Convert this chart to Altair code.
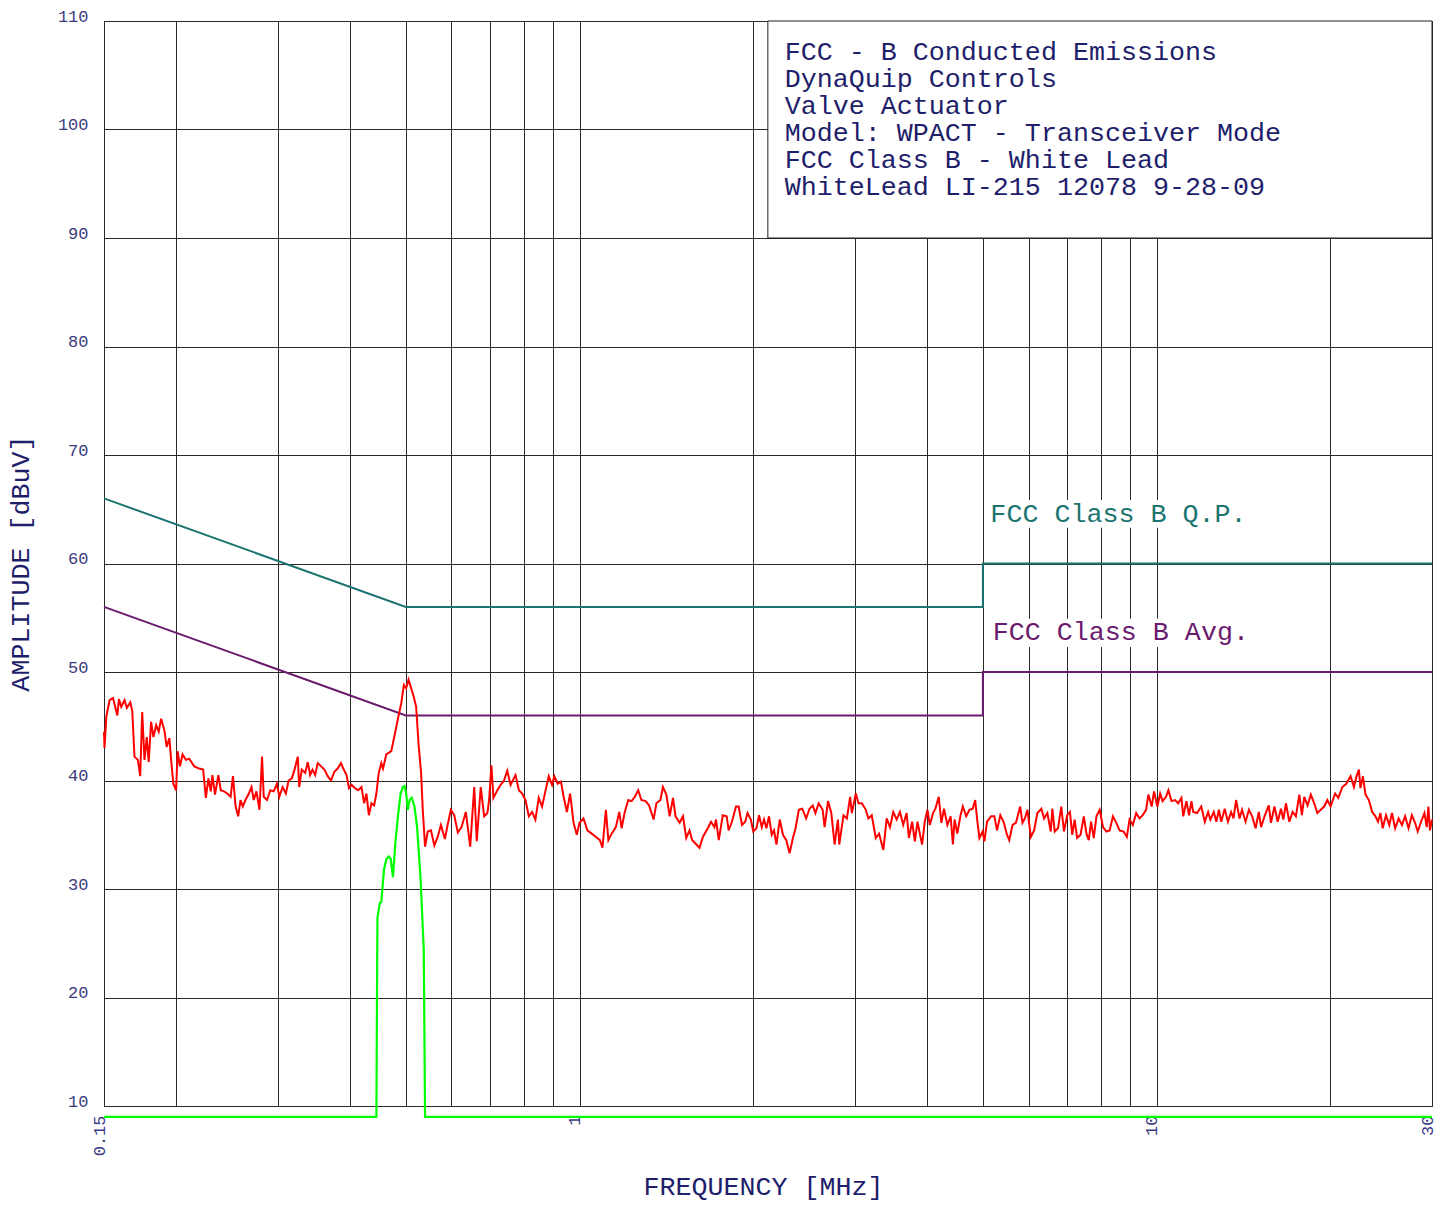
import altair as alt
import pandas as pd

# ---------------- data ----------------
red_freq = [
    0.150, 0.1503, 0.1514, 0.1534, 0.1555, 0.1582, 0.1592, 0.1607, 0.1628, 0.1643, 0.1666, 0.1679, 0.1694, 0.1717,
    0.1733, 0.1747, 0.1763, 0.1779, 0.1793, 0.1810, 0.1827, 0.1847, 0.1866, 0.1884, 0.1909, 0.1926, 0.1947, 0.1960,
    0.1978, 0.2000, 0.2012, 0.2031, 0.2052, 0.2080, 0.2107, 0.2150, 0.2193, 0.2228, 0.2252, 0.2275, 0.2297, 0.2312,
    0.2336, 0.2367, 0.2390, 0.2421,
    0.2453, 0.2486, 0.2509, 0.2536, 0.2562, 0.2586, 0.2610, 0.2638, 0.2673, 0.2702, 0.2726, 0.2756, 0.2789, 0.2818,
    0.2837, 0.2874, 0.2913, 0.2952, 0.2990, 0.3019, 0.3059, 0.3099, 0.3133, 0.3174, 0.3208, 0.3250, 0.3268, 0.3302,
    0.3347, 0.3382, 0.3414,
    0.3446, 0.3483, 0.3519, 0.3567, 0.3614, 0.3662, 0.3711, 0.3760, 0.3810, 0.3861, 0.3897, 0.3948, 0.3986, 0.4027,
    0.4082, 0.4136, 0.4190, 0.4235, 0.4274, 0.4315, 0.4360, 0.4407, 0.4447,
    0.4489, 0.4535, 0.4566, 0.4626, 0.4719, 0.4783, 0.4846, 0.4910, 0.4963, 0.5008, 0.5056, 0.5109, 0.5163, 0.5211,
    0.5261, 0.5315, 0.5351, 0.5400, 0.5458,
    0.5529, 0.5604, 0.5678, 0.5753, 0.5845, 0.5908, 0.5986, 0.6067, 0.6154, 0.6245, 0.6353,
    0.6466, 0.6570, 0.6637, 0.6744, 0.6836, 0.6925, 0.6972, 0.7036, 0.7093, 0.7206, 0.7301, 0.7400,
    0.7496, 0.7595, 0.7747, 0.7852, 0.7956, 0.8061, 0.8170, 0.8278, 0.8386,
    0.8500, 0.8612, 0.8727, 0.8845, 0.8961, 0.9043, 0.9166, 0.9286, 0.9387,
    0.9509, 0.9634, 0.9765, 0.9893, 1.000, 1.016, 1.032, 1.050, 1.068, 1.085, 1.096, 1.111, 1.122, 1.137, 1.156,
    1.172, 1.183, 1.198, 1.215, 1.231, 1.247, 1.264, 1.280, 1.302, 1.320, 1.344, 1.359, 1.381, 1.395,
    1.414, 1.433, 1.452, 1.467, 1.491, 1.511, 1.531, 1.551, 1.568, 1.588, 1.614, 1.636, 1.668, 1.690, 1.713, 1.724,
    1.743, 1.771, 1.799, 1.813, 1.837, 1.867, 1.887, 1.912, 1.937, 1.955, 1.981, 2.000, 2.026, 2.047, 2.069, 2.088,
    2.108, 2.130, 2.153, 2.173, 2.194, 2.223, 2.252, 2.282, 2.312, 2.343, 2.368, 2.399, 2.432,
    2.470, 2.503, 2.536, 2.563, 2.597, 2.638, 2.659, 2.695, 2.731, 2.767, 2.804, 2.819, 2.867, 2.906, 2.944, 2.964,
    3.012, 3.043, 3.085, 3.134, 3.166, 3.209, 3.261, 3.304, 3.361, 3.406, 3.451,
    3.497, 3.544, 3.591, 3.638, 3.688, 3.722, 3.770, 3.811, 3.852, 3.887, 3.923, 3.965, 4.008, 4.045, 4.098, 4.137,
    4.192, 4.237, 4.281, 4.339, 4.396, 4.436,
    4.466, 4.514, 4.573, 4.615, 4.678, 4.739, 4.801, 4.848, 4.887, 4.931, 4.996, 5.030, 5.084, 5.166, 5.234, 5.290,
    5.360, 5.430,
    5.504, 5.554, 5.628, 5.704, 5.802, 5.855, 5.911, 5.973, 6.054, 6.134, 6.214, 6.314, 6.382,
    6.466, 6.554, 6.596, 6.659, 6.747, 6.836, 6.909, 7.000, 7.076, 7.140, 7.209, 7.283, 7.382,
    7.478, 7.558, 7.628, 7.698, 7.781, 7.865, 7.968, 8.074, 8.183, 8.290, 8.400,
    8.514, 8.627, 8.764, 8.879, 8.975, 9.094, 9.217, 9.338,
    9.460, 9.588, 9.676, 9.804, 9.897, 10.03, 10.14, 10.24, 10.38, 10.48, 10.61, 10.76, 10.90, 11.04, 11.12, 11.26,
    11.38, 11.49, 11.57, 11.75, 11.95, 12.12, 12.28, 12.39, 12.56, 12.69, 12.82, 12.94, 13.12, 13.29, 13.46, 13.59,
    13.73, 13.92, 14.06,
    14.26, 14.45, 14.64, 14.84, 15.03, 15.17, 15.38, 15.64, 15.78, 16.00, 16.21, 16.42, 16.58, 16.75, 16.98, 17.20,
    17.43, 17.67, 17.85, 18.02, 18.26, 18.50, 18.75, 18.99, 19.25, 19.51, 19.76, 20.02, 20.38, 20.64, 20.98, 21.31,
    21.68, 21.97, 22.20, 22.41, 22.55, 22.77, 23.01, 23.32, 23.63, 23.94, 24.19, 24.42,
    24.64, 24.97, 25.30, 25.57, 25.90, 26.26, 26.61, 26.95, 27.32, 27.68, 28.04, 28.34, 28.72, 29.11, 29.38, 29.57,
    29.76, 30.0,
]
red_db = [
    44.5, 43.0, 45.9, 47.4, 47.6, 46.0, 47.5, 46.8, 47.4, 46.7, 47.2, 46.4, 42.2, 41.9,
    40.4, 46.3, 41.9, 44.0, 41.7, 45.4, 44.0, 45.1, 44.5, 45.7, 44.6, 43.1, 43.9, 42.0,
    39.7, 39.1, 42.7, 41.3, 42.4, 41.9, 42.0, 41.3, 41.1, 41.0, 38.4, 40.2, 39.0, 40.5,
    38.7, 40.5, 39.1, 39.0,
    38.8, 38.5, 40.4, 37.6, 36.7, 38.2, 37.6, 38.2, 38.8, 39.4, 38.2, 39.0, 37.3, 42.2,
    38.5, 38.2, 39.1, 39.0, 39.7, 38.5, 39.4, 38.8, 40.0, 40.2, 41.0, 42.2, 39.4, 41.0,
    40.7, 41.7, 40.5,
    41.0, 40.5, 41.6, 41.3, 41.0, 40.4, 40.0, 40.8, 41.1, 41.6, 41.1, 40.5, 39.3, 39.6,
    39.3, 39.1, 39.4, 37.9, 38.8, 36.8, 37.9, 37.7, 38.8,
    40.7, 41.6, 41.1, 42.4, 42.7, 44.2, 45.7, 47.1, 48.8, 48.5, 49.3, 48.5, 47.7, 46.8,
    43.4, 40.7, 37.3, 33.9, 35.3,
    35.4, 34.0, 34.8, 35.9, 34.6, 35.9, 37.3, 36.8, 35.2, 35.7, 37.1,
    33.9, 39.4, 34.4, 39.4, 36.7, 37.0, 38.2, 41.4, 38.4, 39.1, 39.6, 40.0,
    40.9, 39.6, 40.5, 39.1, 38.8, 38.2, 36.7, 37.1, 36.4,
    38.4, 37.6, 39.0, 40.4, 39.6, 40.4, 39.7, 39.9, 38.5,
    37.1, 38.8, 36.1, 35.0, 36.1, 36.5, 35.4, 35.1, 34.8, 34.5, 33.8, 37.3, 34.5, 35.1, 35.7,
    37.1, 35.6, 37.1, 38.2, 38.1, 38.5, 39.1, 38.2, 38.1, 37.7, 36.4, 37.9, 38.2, 39.4,
    38.7, 36.7, 38.4, 36.7, 36.1, 36.7, 34.7, 35.4, 34.5, 34.2, 33.8, 34.8, 35.6, 36.2, 35.7, 36.4,
    34.5, 36.8, 36.7, 35.4, 36.2, 37.6, 37.6, 35.9, 36.2, 37.0, 36.4, 35.3, 35.6, 36.8, 35.7, 36.4,
    35.6, 36.7, 35.0, 35.4, 34.1, 36.4, 35.0, 34.5, 33.3, 34.7, 35.6, 37.3, 37.4,
    36.5, 37.4, 37.7, 37.0, 37.9, 37.3, 35.7, 38.1, 37.0, 34.1, 36.4, 34.1, 36.8, 36.5, 38.5, 37.0,
    38.8, 37.9, 37.9, 37.3, 36.5, 36.8, 34.7, 35.1, 33.6, 36.5, 35.7,
    37.1, 36.4, 37.1, 35.9, 37.0, 34.7, 36.2, 34.4, 36.2, 35.1, 34.1, 36.2, 37.3, 35.9, 37.0, 37.4,
    38.5, 36.1, 37.4, 35.9, 36.7, 34.1,
    36.4, 35.1, 36.8, 37.6, 36.7, 37.3, 37.4, 38.2, 36.4, 34.7, 35.3, 34.4, 36.2, 36.7, 36.7, 35.4,
    36.8, 36.2,
    35.0, 34.5, 35.9, 36.1, 37.6, 36.1, 36.5, 37.3, 34.8, 35.4, 37.0, 37.4, 36.5,
    37.0, 35.3, 37.4, 35.3, 35.6, 37.6, 35.3, 36.8, 37.1, 35.0, 36.4, 34.7, 35.0,
    36.7, 35.1, 34.5, 36.2, 34.7, 36.7, 37.3, 35.7, 35.3, 35.4, 36.7,
    36.1, 35.4, 35.3, 34.8, 36.4, 35.9, 37.0, 36.5,
    36.8, 37.3, 38.7, 37.6, 39.0, 37.6, 38.8, 38.1, 38.5, 39.1, 38.1, 38.2, 37.9, 38.4, 36.7, 38.1,
    36.8, 38.1, 37.1, 37.0, 37.6, 36.2, 37.1, 36.4, 37.1, 36.2, 37.3, 36.2, 37.4, 36.2, 37.1, 36.5,
    38.2, 36.5, 37.3,
    36.2, 37.3, 36.7, 35.6, 37.1, 35.7, 36.7, 37.7, 36.1, 37.6, 36.2, 37.4, 36.4, 37.9, 36.2, 37.1,
    36.7, 38.7, 36.8, 38.5, 37.7, 38.7, 37.9, 37.0, 37.3, 37.6, 38.2, 37.6, 38.8, 38.4, 39.4, 39.7,
    40.4, 39.4, 40.4, 41.0, 39.3, 40.4, 38.7, 38.2, 37.1, 36.7, 36.2, 37.0,
    35.6, 36.8, 35.9, 37.0, 35.6, 36.5, 35.9, 36.7, 35.6, 36.8, 36.1, 35.3, 36.2, 37.0, 35.7, 37.6,
    35.4, 36.4,
]

green_freq = [0.15, 0.4447, 0.4465, 0.4507, 0.4535, 0.4584, 0.4626, 0.4671, 0.4708, 0.4751, 0.4794, 0.4846,
              0.4898, 0.4943, 0.4976, 0.5008, 0.5042, 0.5076, 0.5122, 0.5177, 0.5231, 0.5302, 0.5372, 0.5400, 30.0]
green_db = [9.0, 9.0, 27.3, 28.7, 28.8, 31.8, 32.7, 33.0, 32.8, 31.1, 34.1, 36.7,
            38.8, 39.4, 39.5, 38.8, 37.3, 38.2, 38.4, 37.6, 35.7, 31.1, 24.4, 9.0, 9.0]

qp_freq = [0.15, 0.5, 5.0, 5.0, 30.0]
qp_db = [66, 56, 56, 60, 60]
avg_freq = [0.15, 0.5, 5.0, 5.0, 30.0]
avg_db = [56, 46, 46, 50, 50]

grid_freq = [0.15, 0.2, 0.3, 0.4, 0.5, 0.6, 0.7, 0.8, 0.9, 1, 2, 3, 4, 5, 6, 7, 8, 9, 10, 20, 30]
x_tick_labels = ["0.15", "1", "10", "30"]
y_ticks = [10, 20, 30, 40, 50, 60, 70, 80, 90, 100, 110]

title_lines = [
    "FCC - B Conducted Emissions",
    "DynaQuip Controls",
    "Valve Actuator",
    "Model: WPACT - Transceiver Mode",
    "FCC Class B - White Lead",
    "WhiteLead LI-215 12078 9-28-09",
]
qp_label = "FCC Class B Q.P."
avg_label = "FCC Class B Avg."

assert len(red_freq) == len(red_db)
assert len(green_freq) == len(green_db)

# ---------------- styling ----------------
FONT = "Liberation Mono"
NAVY = "#1e1e6a"
TICK_NAVY = "#3a3a7e"
GRID = "#2a2a2a"
RED = "#ff0000"
GREEN = "#00ff00"
QP_COLOR = "#1c7470"
AVG_COLOR = "#6b1b6e"

W, H = 1328, 1085

xscale = alt.Scale(type="log", domain=[0.15, 30], nice=False, zero=False)
yscale = alt.Scale(domain=[10, 110], nice=False, zero=False)


def trace_df(freqs, dbs):
    return pd.DataFrame({"f": freqs, "db": dbs, "i": list(range(len(freqs)))})


label_expr = " : ".join(
    f"datum.value == {v} ? '{v}'" for v in x_tick_labels
) + " : ''"

x_axis = alt.Axis(
    values=grid_freq, grid=True, gridColor=GRID, gridWidth=1, gridOpacity=1,
    ticks=False, tickSize=0, domain=False,
    labelExpr=label_expr, labelOverlap=False, labelAngle=270, labelAlign="right",
    labelBaseline="alphabetic", labelPadding=9, labelFont=FONT, labelFontSize=17,
    labelColor=TICK_NAVY,
    title="FREQUENCY [MHz]", titleFont=FONT, titleFontSize=26.7, titleFontWeight="normal",
    titleColor=NAVY, titleX=659, titleY=80, titleAlign="center", titleBaseline="middle", titleAngle=0,
)
y_axis = alt.Axis(
    values=y_ticks, grid=True, gridColor=GRID, gridWidth=1, gridOpacity=1,
    ticks=False, tickSize=0, domain=False,
    labelAlign="right", labelBaseline="alphabetic", labelPadding=16, labelFont=FONT,
    labelFontSize=17, labelColor=TICK_NAVY,
    title="AMPLITUDE [dBuV]", titleFont=FONT, titleFontSize=26.7, titleFontWeight="normal",
    titleColor=NAVY, titleX=-84, titleY=542, titleAlign="center", titleBaseline="middle", titleAngle=270,
)

X = lambda f: alt.X(f, scale=xscale, axis=x_axis)
Y = lambda f: alt.Y(f, scale=yscale, axis=y_axis)


def line_layer(freqs, dbs, color, width):
    return alt.Chart(trace_df(freqs, dbs)).mark_line(color=color, strokeWidth=width).encode(
        x=X("f:Q"), y=Y("db:Q"), order="i:Q",
    )


qp = line_layer(qp_freq, qp_db, QP_COLOR, 2)
avg = line_layer(avg_freq, avg_db, AVG_COLOR, 2)
red = line_layer(red_freq, red_db, RED, 2)
green = line_layer(green_freq, green_db, GREEN, 2.2)

# title box (top right, white with frame)
box = alt.Chart(pd.DataFrame({"f": [2.12], "f2": [30.0], "db": [90.0], "db2": [110.0]})).mark_rect(
    fill="white", stroke="#222222", strokeWidth=1
).encode(x=X("f:Q"), x2="f2:Q", y=Y("db:Q"), y2="db2:Q")

title_text = alt.Chart(pd.DataFrame({"f": [2.267], "db": [106.4], "t": ["\n".join(title_lines)]})).mark_text(
    align="left", baseline="alphabetic", font=FONT, fontSize=26.7, color=NAVY,
    lineBreak="\n", lineHeight=27,
).encode(x=X("f:Q"), y=Y("db:Q"), text="t:N")

# limit labels with white backing
label_boxes = alt.Chart(pd.DataFrame({
    "f": [5.05, 5.05], "f2": [14.3, 14.3], "db": [63.3, 52.3], "db2": [65.85, 54.9]
})).mark_rect(fill="white").encode(x=X("f:Q"), x2="f2:Q", y=Y("db:Q"), y2="db2:Q")

labels = alt.Chart(pd.DataFrame({
    "f": [5.151, 5.199], "db": [63.8, 52.95], "t": [qp_label, avg_label], "c": [QP_COLOR, AVG_COLOR]
})).mark_text(align="left", baseline="alphabetic", font=FONT, fontSize=26.7).encode(
    x=X("f:Q"), y=Y("db:Q"), text="t:N", color=alt.Color("c:N", scale=None),
)

chart = alt.layer(
    qp, box, label_boxes, avg, green, red, title_text, labels
).properties(
    width=W, height=H,
    autosize=alt.AutoSizeParams(type="none"),
    padding={"left": 96, "top": 13, "right": 2, "bottom": 95},
    background="white",
).configure_view(stroke="#222222", strokeWidth=1)

chart.save("out.html", embed_options={"renderer": "svg", "actions": False})
